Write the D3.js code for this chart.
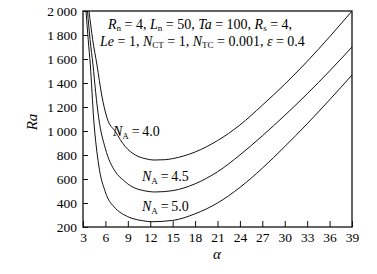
<!DOCTYPE html>
<html>
<head>
<meta charset="utf-8">
<script src="https://cdn.jsdelivr.net/npm/d3@7"></script>
<style>
  body { margin: 0; background: #fff; }
  text { font-family: "Liberation Serif", "DejaVu Serif", serif; fill: #000; }
</style>
</head>
<body>
<div id="chart"></div>
<script>
const width = 377;
const height = 274;
const margin = {top: 11, right: 25, bottom: 47, left: 83};

// valeurs (alpha, Ra)
const alphaNA40 = [3.8, 4.3, 4.87, 5.5, 6.21, 7.33, 8.66, 10, 11.3, 12.5, 14, 15, 18, 21, 24, 27, 30, 33, 36, 39];
const raNA40    = [2000, 1760, 1550, 1300, 1110, 995, 870, 800, 770, 758, 761, 770, 825, 920, 1050, 1215, 1390, 1580, 1785, 2000];

const alphaNA45 = [3.6, 3.95, 4.34, 4.7, 5.1, 5.98, 7.33, 8.4, 9.56, 11, 12.7, 15, 18, 21, 24, 27, 30, 33, 36, 39];
const raNA45    = [2000, 1760, 1550, 1320, 1110, 856, 661, 590, 536, 505, 492, 503, 560, 660, 800, 960, 1130, 1310, 1500, 1700];

const alphaNA50 = [3.4, 3.7, 3.98, 4.43, 5.1, 5.98, 7.33, 8.4, 9.56, 11, 12.2, 15, 18, 21, 24, 27, 30, 33, 36, 39];
const raNA50    = [2000, 1760, 1550, 1100, 717, 494, 356, 305, 272, 252, 244, 255, 310, 400, 530, 690, 870, 1060, 1260, 1467];

const seriesNames = ["4.0", "4.5", "5.0"];
const labelPos = [[113, 136], [142, 181], [142, 211]]; // ancrage des étiquettes N_A

const xTicks = [3, 6, 9, 12, 15, 18, 21, 24, 27, 30, 33, 36, 39];
const yTicks = [200, 400, 600, 800, 1000, 1200, 1400, 1600, 1800, 2000];

const x = d3.scaleLinear().domain([3, 39]).range([margin.left, width - margin.right]);
const y = d3.scaleLinear().domain([200, 2000]).range([height - margin.bottom, margin.top]);

const svg = d3.select("#chart")
    .append("svg")
    .attr("width", width)
    .attr("height", height)
    .attr("viewBox", `0 0 ${width} ${height}`);

svg.append("defs").append("clipPath").attr("id", "clip")
    .append("rect")
    .attr("x", margin.left).attr("y", margin.top)
    .attr("width", width - margin.left - margin.right)
    .attr("height", height - margin.top - margin.bottom);

// format avec espace comme séparateur de milliers
const fmt = d3.formatLocale({decimal: ".", thousands: "\u2009", grouping: [3], currency: ["", ""]}).format(",");

// axes (graduations vers l'intérieur)
svg.append("g")
    .attr("transform", `translate(0,${height - margin.bottom})`)
    .call(d3.axisBottom(x).tickValues(xTicks).tickSizeInner(-6).tickSizeOuter(0).tickPadding(5))
    .call(g => g.select(".domain").remove())
    .call(g => g.selectAll("text").attr("font-size", 13.5));

svg.append("g")
    .attr("transform", `translate(${margin.left},0)`)
    .call(d3.axisLeft(y).tickValues(yTicks).tickFormat(fmt).tickSizeInner(-5).tickSizeOuter(0).tickPadding(6))
    .call(g => g.select(".domain").remove())
    .call(g => g.selectAll("text").attr("font-size", 13.5).attr("dy", "0.35em"));

svg.selectAll(".tick line").attr("stroke", "#111");

// cadre
svg.append("rect")
    .attr("x", margin.left).attr("y", margin.top)
    .attr("width", width - margin.left - margin.right)
    .attr("height", height - margin.top - margin.bottom)
    .attr("fill", "none")
    .attr("stroke", "#111")
    .attr("stroke-width", 1.3);

// courbes
const line = d3.line()
    .curve(d3.curveMonotoneX)
    .x(d => x(d[0]))
    .y(d => y(d[1]));

const curves = [
    d3.zip(alphaNA40, raNA40),
    d3.zip(alphaNA45, raNA45),
    d3.zip(alphaNA50, raNA50)
];

svg.append("g")
    .attr("clip-path", "url(#clip)")
    .selectAll("path")
    .data(curves)
    .enter()
    .append("path")
    .attr("d", line)
    .attr("fill", "none")
    .attr("stroke", "#111")
    .attr("stroke-width", 1);

// étiquettes N_A = ...
seriesNames.forEach((name, i) => {
    const t = svg.append("text")
        .attr("x", labelPos[i][0])
        .attr("y", labelPos[i][1])
        .attr("font-size", 14);
    t.append("tspan").attr("font-style", "italic").text("N");
    t.append("tspan").attr("font-size", 9).attr("dy", 3).text("A");
    t.append("tspan").attr("dy", -3).text("\u2009=\u2009" + name);
});

// texte des paramètres
function addRich(xPos, yPos, parts) {
    const t = svg.append("text").attr("x", xPos).attr("y", yPos).attr("font-size", 14);
    let shift = 0;
    parts.forEach(p => {
        const s = t.append("tspan").text(p.t);
        if (p.i) s.attr("font-style", "italic");
        if (p.sub) {
            s.attr("font-size", 9).attr("dy", 2 - shift);
            shift = 2;
        } else if (shift) {
            s.attr("dy", -shift);
            shift = 0;
        }
    });
}

addRich(108, 29, [
    {t: "R", i: true}, {t: "n", sub: true}, {t: " = 4, "},
    {t: "L", i: true}, {t: "n", sub: true}, {t: " = 50, "},
    {t: "Ta", i: true}, {t: " = 100, "},
    {t: "R", i: true}, {t: "s", sub: true}, {t: " = 4,"}
]);
addRich(100, 46, [
    {t: "Le", i: true}, {t: " = 1, "},
    {t: "N", i: true}, {t: "CT", sub: true}, {t: " = 1, "},
    {t: "N", i: true}, {t: "TC", sub: true}, {t: " = 0.001, "},
    {t: "ε", i: true}, {t: " = 0.4"}
]);

// titres des axes
svg.append("text")
    .attr("x", 217).attr("y", 259)
    .attr("text-anchor", "middle")
    .attr("font-size", 15)
    .attr("font-style", "italic")
    .text("α");

svg.append("text")
    .attr("transform", "translate(37,122) rotate(-90)")
    .attr("text-anchor", "middle")
    .attr("font-size", 15)
    .attr("font-style", "italic")
    .text("Ra");
</script>
</body>
</html>
